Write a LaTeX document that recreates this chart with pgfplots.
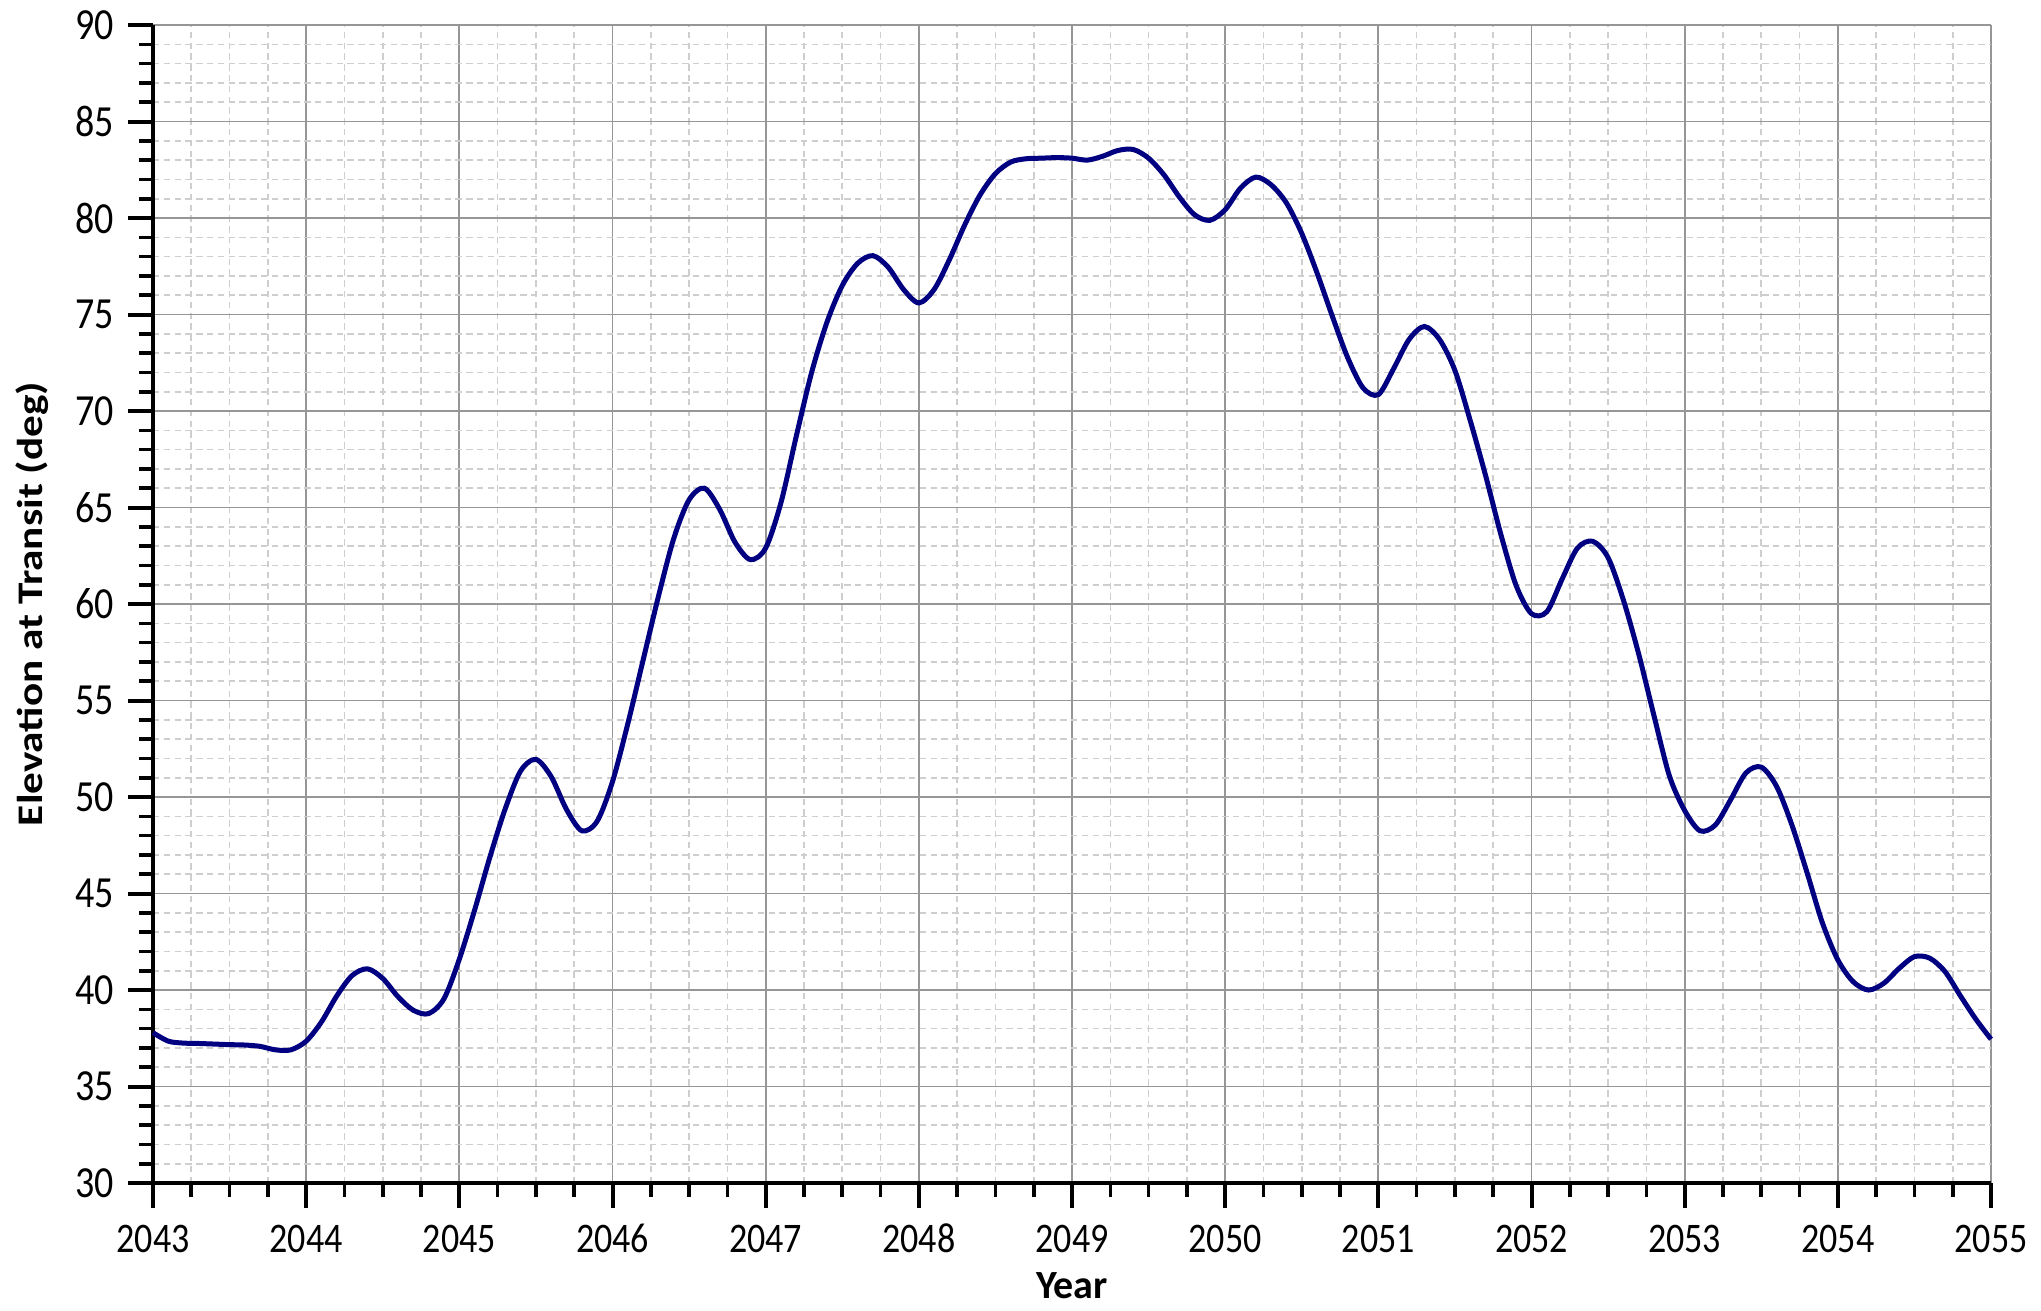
\documentclass[border=0pt]{standalone}
\usepackage{fontspec}
\setmainfont{Carlito}
\usepackage{pgfplots}
\pgfplotsset{compat=1.18}
\definecolor{curve}{RGB}{0,0,128}
\definecolor{majgrid}{RGB}{150,150,150}
\definecolor{mingrid}{RGB}{206,206,206}
\begin{document}
\begin{tikzpicture}
\begin{axis}[
  name=ax,
  scale only axis,
  width=459.5pt, height=289.5pt,
  xmin=2043, xmax=2055, ymin=30, ymax=90,
  xtick={2043,2044,2045,2046,2047,2048,2049,2050,2051,2052,2053,2054,2055},
  ytick={30,35,...,90},
  minor xtick={2043.25,2043.5,2043.75,2044.25,2044.5,2044.75,2045.25,2045.5,2045.75,
    2046.25,2046.5,2046.75,2047.25,2047.5,2047.75,2048.25,2048.5,2048.75,
    2049.25,2049.5,2049.75,2050.25,2050.5,2050.75,2051.25,2051.5,2051.75,
    2052.25,2052.5,2052.75,2053.25,2053.5,2053.75,2054.25,2054.5,2054.75},
  minor y tick num=4,
  axis x line*=bottom, axis y line*=left,
  axis line style={line width=1pt, black},
  tick align=outside,
  major tick length=6.25pt,
  minor tick length=3.5pt,
  every tick/.style={black, line width=1pt},
  every minor tick/.style={black, line width=0.9pt},
  xmajorgrids=true, xminorgrids=true, ymajorgrids=true, yminorgrids=true,
  major grid style={majgrid, line width=0.45pt, solid},
  minor grid style={mingrid, line width=0.4pt, dash pattern=on 1.6pt off 1.1pt},
  /pgf/number format/assume math mode=true,
  /pgf/number format/1000 sep={},
  tick label style={font=\fontsize{9}{10}\selectfont, yscale=1.17},
  yticklabel style={font=\fontsize{9.5}{10}\selectfont},
  xticklabel style={text height=5.9pt, text depth=0pt},
  xlabel={Year},
  ylabel={Elevation at Transit (deg)},
  xlabel style={at={(axis description cs:0.5,-0.077)}, anchor=north, inner sep=0pt,
     font=\fontsize{10}{12}\selectfont\bfseries},
  ylabel style={at={(axis description cs:-0.0751,0.5)}, anchor=north, inner sep=0pt,
     font=\fontsize{9}{11}\selectfont\bfseries, rotate=0, xscale=1.2},
  clip=false,
]
\addplot[curve, line width=1.25pt, smooth, tension=0.5] coordinates {
(2043.0,37.79) (2043.1,37.35) (2043.2,37.25) (2043.3,37.23) (2043.4,37.20)
(2043.5,37.17) (2043.6,37.15) (2043.7,37.08) (2043.8,36.90) (2043.9,36.90)
(2044.0,37.35) (2044.1,38.35) (2044.2,39.70) (2044.3,40.75) (2044.4,41.10)
(2044.5,40.60) (2044.6,39.65) (2044.7,38.95) (2044.8,38.78) (2044.9,39.55)
(2045.0,41.60) (2045.1,44.15) (2045.2,46.90) (2045.3,49.40) (2045.4,51.35)
(2045.5,51.95) (2045.6,51.05) (2045.7,49.35) (2045.8,48.25) (2045.9,48.75)
(2046.0,50.80) (2046.1,53.80) (2046.2,57.10) (2046.3,60.40) (2046.4,63.40)
(2046.5,65.40) (2046.6,66.00) (2046.7,64.90) (2046.8,63.20) (2046.9,62.30)
(2047.0,62.90) (2047.1,65.26) (2047.2,68.70) (2047.3,72.00) (2047.4,74.60)
(2047.5,76.50) (2047.6,77.65) (2047.7,78.05) (2047.8,77.45) (2047.9,76.30)
(2048.0,75.60) (2048.1,76.30) (2048.2,77.85) (2048.3,79.65) (2048.4,81.20)
(2048.5,82.30) (2048.6,82.90) (2048.7,83.07) (2048.8,83.10) (2048.9,83.13)
(2049.0,83.10) (2049.1,83.00) (2049.2,83.20) (2049.3,83.50) (2049.4,83.55)
(2049.5,83.10) (2049.6,82.24) (2049.7,81.10) (2049.8,80.17) (2049.9,79.88)
(2050.0,80.43) (2050.1,81.55) (2050.2,82.12) (2050.3,81.72) (2050.4,80.78)
(2050.5,79.20) (2050.6,77.15) (2050.7,74.90) (2050.8,72.76) (2050.9,71.20)
(2051.0,70.85) (2051.1,72.20) (2051.2,73.70) (2051.3,74.38) (2051.4,73.70)
(2051.5,72.10) (2051.6,69.50) (2051.7,66.66) (2051.8,63.60) (2051.9,60.95)
(2052.0,59.50) (2052.1,59.60) (2052.2,61.30) (2052.3,62.90) (2052.4,63.25)
(2052.5,62.40) (2052.6,60.20) (2052.7,57.40) (2052.8,54.20) (2052.9,51.10)
(2053.0,49.30) (2053.1,48.25) (2053.2,48.55) (2053.3,49.86) (2053.4,51.25)
(2053.5,51.55) (2053.6,50.55) (2053.7,48.55) (2053.8,46.05) (2053.9,43.46)
(2054.0,41.56) (2054.1,40.43) (2054.2,40.00) (2054.3,40.35) (2054.4,41.12)
(2054.5,41.73) (2054.6,41.65) (2054.7,40.95) (2054.8,39.70) (2054.9,38.50)
(2055.0,37.45)
};
\end{axis}
\path (ax.south west) ++(-38.25pt,-31.75pt) coordinate (bl);
\path (ax.north east) ++(12.5pt,6.25pt) coordinate (tr);
\pgfresetboundingbox
\path (bl) rectangle (tr);
\end{tikzpicture}
\end{document}
